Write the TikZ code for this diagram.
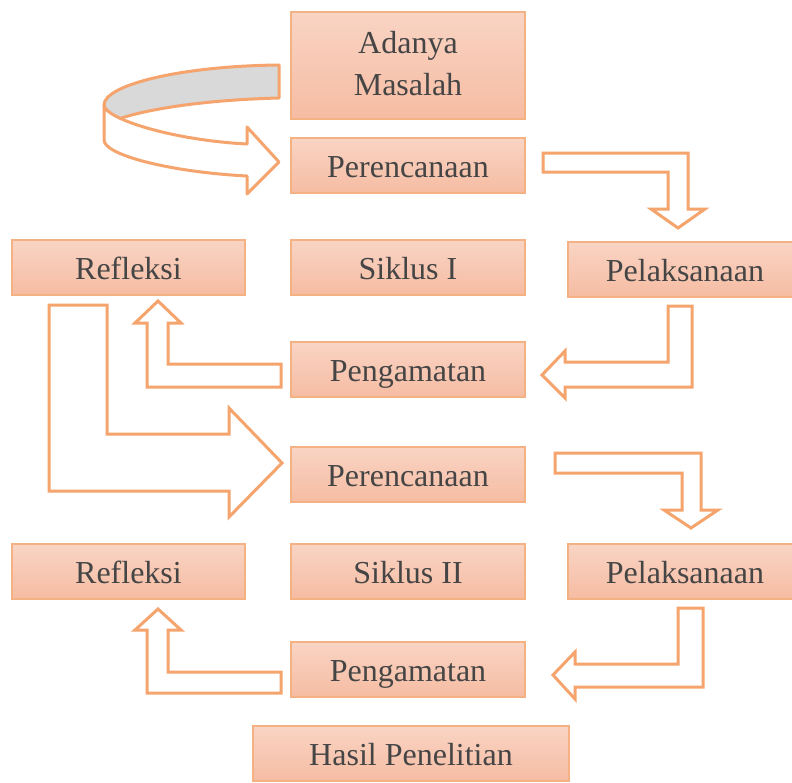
\documentclass[tikz,border=0pt]{standalone}
\usepackage{fontspec}
\setmainfont{Liberation Serif}
\definecolor{boxtop}{HTML}{F9D4C4}
\definecolor{boxbot}{HTML}{F6BCA2}
\definecolor{boxline}{HTML}{F4B183}
\definecolor{arrline}{HTML}{F4A46C}
\definecolor{txt}{HTML}{454545}
\definecolor{ribbongray}{HTML}{D9D9D9}
\tikzset{
  basebox/.style={draw=boxline, line width=1.5pt, top color=boxtop, bottom color=boxbot,
    minimum width=234pt, minimum height=55pt, inner sep=0pt, text=txt,
    font=\fontsize{32}{42}\selectfont},
  onebox/.style={basebox, text height=30pt, text depth=6pt},
  blockarrow/.style={draw=arrline, line width=3pt, fill=white, line join=miter}
}
\begin{document}
\begin{tikzpicture}[x=1pt,y=-1pt]
\useasboundingbox (0,0) rectangle (792,782);
\clip (0,0) rectangle (792,782);

% boxes
\node[basebox, minimum height=107pt, align=center, text height=63pt, text depth=4pt] (adanya) at (408,65.5) {Adanya\\Masalah};
\node[onebox] (per1) at (408,165.5) {Perencanaan};
\node[onebox, minimum width=233pt] (ref1) at (128.5,267.5) {Refleksi};
\node[onebox] (sik1) at (408,267.5) {Siklus I};
\node[onebox] (pel1) at (685,269.5) {Pelaksanaan};
\node[onebox] (pg1) at (408,369.5) {Pengamatan};
\node[onebox] (per2) at (408,474.5) {Perencanaan};
\node[onebox, minimum width=233pt] (ref2) at (128.5,571.5) {Refleksi};
\node[onebox] (sik2) at (408,571.5) {Siklus II};
\node[onebox] (pel2) at (685,571.5) {Pelaksanaan};
\node[onebox] (pg2) at (408,669.5) {Pengamatan};
\node[onebox, minimum width=316pt] (hasil) at (411,753.5) {Hasil Penelitian};

% curved ribbon arrow: back (gray) part
\path[fill=ribbongray, draw=arrline, line width=3pt, line join=round]
  (279,65) .. controls (180,66) and (104,85) .. (104,105)
  -- (108,125) -- (120,118.5)
  .. controls (145,110) and (200,100) .. (279,98) -- cycle;
% front (white) part
\path[blockarrow, line join=round]
  (104,105) .. controls (104,118) and (170,140) .. (247,144)
  -- (247,127) -- (279,162) -- (247,194) -- (247,176)
  .. controls (170,172) and (104,155) .. (104,140) -- cycle;

% bent block arrows
\path[blockarrow] (543,153) -- (688,153) -- (688,209) -- (705,209) -- (678,228)
  -- (651,209) -- (668,209) -- (668,172) -- (543,172) -- cycle;
\path[blockarrow] (668,306) -- (692,306) -- (692,387) -- (565,387) -- (565,398)
  -- (542,375) -- (565,351) -- (565,362) -- (668,362) -- cycle;
\path[blockarrow] (281,364) -- (281,387) -- (147,387) -- (147,323) -- (135,323)
  -- (158,301) -- (181,323) -- (168,323) -- (168,364) -- cycle;
\path[blockarrow] (49,305) -- (107,305) -- (107,434) -- (229,434) -- (229,408)
  -- (282,463) -- (229,517) -- (229,491) -- (49,491) -- cycle;
\path[blockarrow] (555,453) -- (701,453) -- (701,510) -- (718,510) -- (691,528)
  -- (664,510) -- (682,510) -- (682,473) -- (555,473) -- cycle;
\path[blockarrow] (678,608) -- (703,608) -- (703,687) -- (575,687) -- (575,699)
  -- (553,675) -- (575,652) -- (575,664) -- (678,664) -- cycle;
\path[blockarrow] (281,672) -- (281,693) -- (147,693) -- (147,630) -- (135,630)
  -- (158,609) -- (181,630) -- (168,630) -- (168,672) -- cycle;
\end{tikzpicture}
\end{document}
